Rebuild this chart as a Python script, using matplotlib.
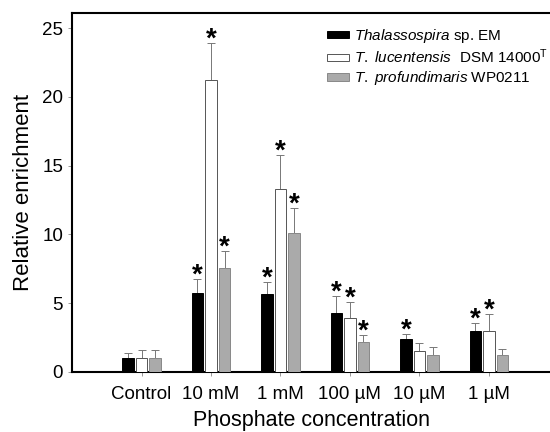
import numpy as np
import matplotlib
matplotlib.use("Agg")
import matplotlib.pyplot as plt

plt.rcParams['font.family'] = ['Liberation Sans', 'DejaVu Sans']
plt.rcParams['mathtext.fontset'] = 'custom'
plt.rcParams['mathtext.rm'] = 'Liberation Sans'
plt.rcParams['mathtext.it'] = 'Liberation Sans:italic'

categories = ['Control', '10 mM', '1 mM', '100 µM', '10 µM', '1 µM']
series = [r'$\mathit{Thalassospira}$ sp. EM',
          r'$\mathit{T.\ lucentensis}$  DSM 14000$^{\mathrm{T}}$',
          r'$\mathit{T.\ profundimaris}$ WP0211']

em_vals = [1.0, 5.75, 5.65, 4.3, 2.4, 2.95]
em_err = [0.4, 1.0, 0.9, 1.2, 0.35, 0.6]
luc_vals = [1.0, 21.2, 13.3, 3.95, 1.55, 2.95]
luc_err = [0.6, 2.7, 2.45, 1.1, 0.55, 1.25]
pro_vals = [1.0, 7.55, 10.1, 2.15, 1.2, 1.2]
pro_err = [0.6, 1.25, 1.8, 0.55, 0.6, 0.45]

em_sig = [False, True, True, True, True, True]
luc_sig = [False, True, True, True, False, True]
pro_sig = [False, True, True, True, False, False]

values = [em_vals, luc_vals, pro_vals]
errors = [em_err, luc_err, pro_err]
sigs = [em_sig, luc_sig, pro_sig]
colors = ['black', 'white', '#aaaaaa']
edges = ['black', '#555555', '#888888']

fig = plt.figure(figsize=(5.5, 4.32), dpi=100)
ax = fig.add_axes([0.131, 0.139, 0.869, 0.831])

x = np.arange(len(categories))
w = 0.165
step = 0.195
for i in range(3):
    pos = x + (i - 1) * step
    ax.bar(pos, values[i], w, color=colors[i], edgecolor=edges[i], linewidth=0.7,
           label=series[i], zorder=3)
    ax.errorbar(pos, values[i], yerr=[np.zeros(len(x)), errors[i]], fmt='none',
                ecolor='#777777', elinewidth=0.7, capsize=3, capthick=0.7, zorder=2)
    for p, v, e, s in zip(pos, values[i], errors[i], sigs[i]):
        if s:
            # asterisk glyph sits high in the em box, so pull the baseline down
            ax.annotate('*', xy=(p, v + e), xytext=(0, -2.5), textcoords='offset points',
                        ha='center', va='baseline', fontsize=20, fontweight='bold',
                        zorder=4)

ax.set_xlim(-1, 5.88)
ax.set_ylim(0, 26.1)
ax.set_xticks(x)
ax.set_xticklabels(categories, fontsize=13.5)
ax.set_yticks([0, 5, 10, 15, 20, 25])
ax.tick_params(axis='both', labelsize=13.5, length=3, width=0.6, color='#888888')
ax.tick_params(axis='x', pad=7)
for side in ['left', 'bottom', 'top']:
    ax.spines[side].set_linewidth(1.5)
ax.spines['right'].set_visible(False)

ax.set_xlabel('Phosphate concentration', fontsize=15.5, labelpad=5)
ax.set_ylabel('Relative enrichment', fontsize=16, labelpad=6)

leg = ax.legend(loc='upper right', bbox_to_anchor=(1.025, 1.0), frameon=False, fontsize=11,
                handlelength=1.45, handleheight=0.35, handletextpad=0.35, labelspacing=0.2)

fig.savefig('out.png', dpi=100)
